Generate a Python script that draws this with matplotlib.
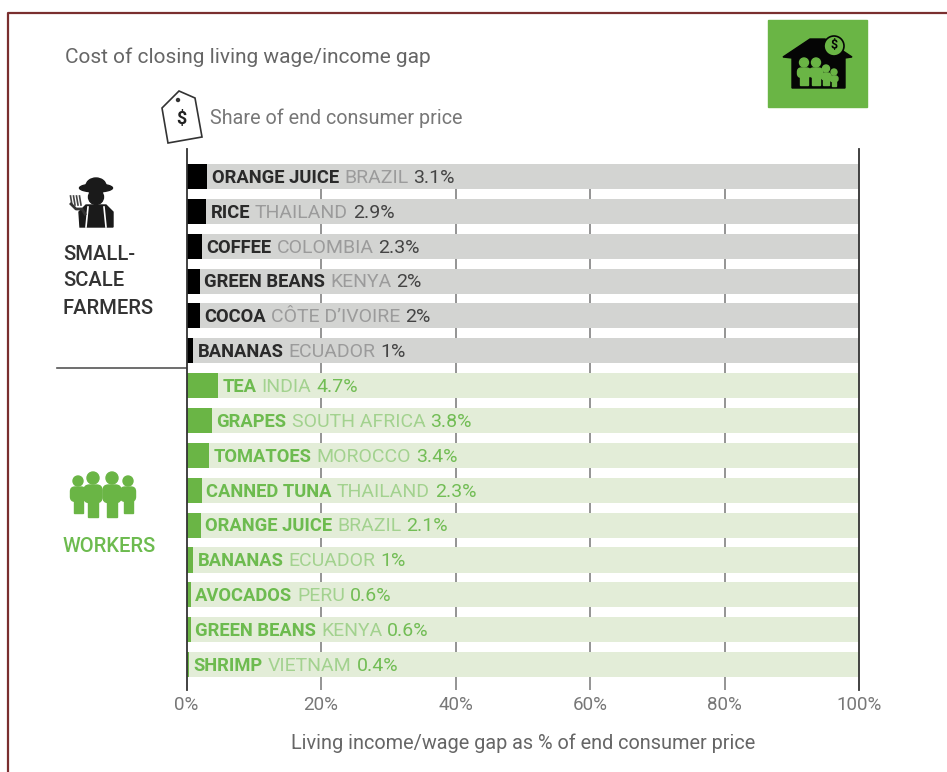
import matplotlib
matplotlib.use('Agg')
import matplotlib.pyplot as plt
from matplotlib.patches import Polygon, Circle, Ellipse, Rectangle, FancyBboxPatch

plt.rcParams['font.family'] = ['Roboto', 'DejaVu Sans']

# farmers first, then workers, top to bottom
products = ['ORANGE JUICE', 'RICE', 'COFFEE', 'GREEN BEANS', 'COCOA', 'BANANAS',
            'TEA', 'GRAPES', 'TOMATOES', 'CANNED TUNA', 'ORANGE JUICE', 'BANANAS',
            'AVOCADOS', 'GREEN BEANS', 'SHRIMP']
countries = ['BRAZIL', 'THAILAND', 'COLOMBIA', 'KENYA', "CÔTE D’IVOIRE", 'ECUADOR',
             'INDIA', 'SOUTH AFRICA', 'MOROCCO', 'THAILAND', 'BRAZIL', 'ECUADOR',
             'PERU', 'KENYA', 'VIETNAM']
values = [3.1, 2.9, 2.3, 2, 2, 1, 4.7, 3.8, 3.4, 2.3, 2.1, 1, 0.6, 0.6, 0.4]
numFarmers = 6
xTicks = [0, 20, 40, 60, 80, 100]

GREEN = '#6ab545'
W, H = 947, 772

fig = plt.figure(figsize=(W / 100, H / 100), dpi=100)
bg = fig.add_axes([0, 0, 1, 1])
bg.set_xlim(0, W)
bg.set_ylim(H, 0)
bg.axis('off')

ax = fig.add_axes([186.5 / W, 1 - 690 / H, (859 - 186.5) / W, (690 - 149) / H])
ax.patch.set_alpha(0)
ax.set_xlim(0, 100)
step = 34.86
ax.set_ylim((690 - 176.5) / step, (149 - 176.5) / step)

rend = fig.canvas.get_renderer()
ypos = list(range(len(values)))

# gridlines only show in the gaps between the bands
ax.vlines(xTicks[1:-1], 0, ax.get_ylim()[0], color='#777777', lw=1.1, zorder=1)

for ii in ypos:
    farmer = ii < numFarmers
    ax.barh(ii, 100, height=0.72, color='#d3d4d2' if farmer else '#e3edd8', zorder=2)
    ax.barh(ii, values[ii], height=0.72, color='#000000' if farmer else GREEN, zorder=3)
    # product, country and value run on from each other
    parts = [(products[ii], '#2a2a2a' if farmer else '#6dbb4f', 'bold', 13.2),
             (countries[ii], '#9b9b9b' if farmer else '#a3d28f', 'normal', 14),
             ('%g%%' % values[ii], '#444444' if farmer else '#72bd55', 'normal', 14)]
    xpix = ax.transData.transform((values[ii], 0))[0] + 4.5
    for txt, col, wt, sz in parts:
        xx = ax.transData.inverted().transform((xpix, 0))[0]
        tt = ax.text(xx, ii - 0.02, txt, color=col, fontweight=wt, fontsize=sz,
                     va='center_baseline', ha='left', zorder=4)
        xpix = tt.get_window_extent(rend).x1 + 5

for side in ['top', 'bottom']:
    ax.spines[side].set_visible(False)
for side in ['left', 'right']:
    ax.spines[side].set_color('#333333')
    ax.spines[side].set_linewidth(1.3)
    ax.spines[side].set_zorder(5)
ax.set_yticks([])
ax.set_xticks(xTicks)
ax.set_xticklabels(['%d%%' % xx for xx in xTicks], color='#777777', fontsize=13.5)
ax.tick_params(axis='x', length=0, pad=4)
ax.set_xlabel('Living income/wage gap as % of end consumer price', color='#666666',
              fontsize=14.3, labelpad=14)

# outer frame
bg.plot([8, 8, W], [H, 13, 13], color='#7a2f2f', lw=1.6)

bg.text(65, 57, 'Cost of closing living wage/income gap', color='#666666', fontsize=15,
        va='center')
bg.text(210, 118, 'Share of end consumer price', color='#777777', fontsize=14.2, va='center')
bg.plot([57, 186], [368, 368], color='#555555', lw=1.2)

for yy, txt in zip([255, 281, 308], ['SMALL-', 'SCALE', 'FARMERS']):
    bg.text(63, yy, txt, color='#333333', fontsize=14.5, fontweight='medium', va='center')
bg.text(63, 547, 'WORKERS', color='#6dbb4f', fontsize=14.5, fontweight='medium', va='center')

# price tag
bg.add_patch(Polygon([(162, 108), (179, 91), (195, 98), (202, 137), (168, 143)],
                     closed=True, fc='white', ec='#333333', lw=1.2))
bg.add_patch(Circle((178, 100), 1.5, color='#333333'))
bg.text(181.5, 119, '$', color='#222222', fontsize=13, fontweight='bold', ha='center',
        va='center')

# farmer
bg.add_patch(Ellipse((96, 188), 33, 8, color='#1a1a1a'))
bg.add_patch(Ellipse((96, 186), 20, 16, color='#1a1a1a'))
bg.add_patch(Ellipse((96, 197), 15, 15, color='#1a1a1a'))
bg.add_patch(Polygon([(80, 227), (79, 212), (86, 205), (106, 205), (113, 212), (113, 227)],
                     closed=True, color='#1a1a1a'))
bg.plot([88, 86], [207, 227], color='white', lw=1.2)
bg.plot([104, 106], [207, 227], color='white', lw=1.2)
for xx in [70.5, 73.5, 76.5, 79.5]:
    bg.plot([xx, xx + 1.5], [196, 205], color='#444444', lw=1.2)
bg.plot([71, 76, 82, 85], [204, 209, 209, 214], color='#333333', lw=2)


def person(axx, cx, top, rr, wid, hgt, col):
    axx.add_patch(Circle((cx, top + rr), rr, color=col))
    axx.add_patch(FancyBboxPatch((cx - wid / 2, top + 2 * rr + 1), wid, hgt * 0.55,
                                 boxstyle='round,pad=0,rounding_size=%g' % (wid * 0.3), color=col))
    axx.add_patch(Rectangle((cx - wid * 0.3, top + 2 * rr + 1 + hgt * 0.4), wid * 0.6, hgt * 0.6,
                            color=col))


# workers
person(bg, 78, 476, 5, 15, 26, GREEN)
person(bg, 128, 476, 5, 15, 26, GREEN)
person(bg, 93, 472, 6, 18, 32, GREEN)
person(bg, 112, 472, 6, 18, 32, GREEN)

# house badge
bg.add_patch(Rectangle((768, 20), 99, 87, color='#6ab545'))
bg.add_patch(Polygon([(783, 57), (810, 39), (825, 39), (852, 57), (845, 58), (845, 88),
                      (792, 88), (792, 58)], closed=True, color='#050505'))
person(bg, 804, 58, 4.5, 13, 17, GREEN)
person(bg, 816, 58, 4.5, 13, 17, GREEN)
person(bg, 826, 65, 3.5, 10, 12, GREEN)
person(bg, 834, 69, 3, 8, 10, GREEN)
bg.add_patch(Circle((834, 46), 10, fc=GREEN, ec='#050505', lw=1.2))
bg.text(834, 46, '$', color='#050505', fontsize=9, fontweight='bold', ha='center', va='center')

fig.savefig('out.png', dpi=100)
